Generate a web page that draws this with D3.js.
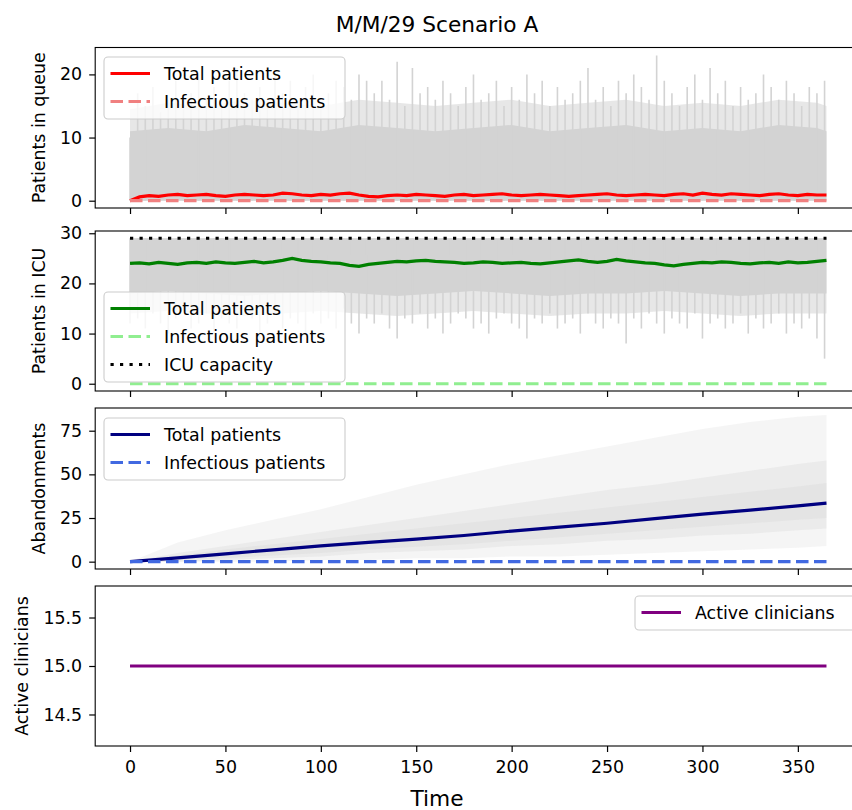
<!DOCTYPE html>
<html><head><meta charset="utf-8">
<script src="https://cdn.jsdelivr.net/npm/d3@7"></script>
<style>
body{margin:0;background:#fff}
svg text{font-family:"DejaVu Sans",sans-serif;fill:#000}
</style>
</head><body><svg id="c" width="852" height="810"></svg>
<script>
// ---------------- data ----------------
const xTicks = [0, 50, 100, 150, 200, 250, 300, 350];
const queueTicks = [0, 10, 20];
const icuTicks = [0, 10, 20, 30];
const abandonTicks = [0, 25, 50, 75];
const clinTicks = [14.5, 15.0, 15.5];

// mean series, sampled every 5 days (t = 0..365)
const meanStep = 5;
const queueMean = [0.0,0.6,0.8,0.7,0.9,1.0,0.8,0.9,1.0,0.8,
  0.7,0.9,1.0,0.9,0.8,0.9,1.2,1.1,0.9,0.8,
  1.0,0.9,1.1,1.2,0.9,0.7,0.6,0.8,0.9,0.8,
  1.0,0.9,0.8,0.7,0.9,1.0,0.8,0.9,1.0,1.1,
  0.9,0.8,0.9,1.0,0.9,0.8,0.7,0.8,0.9,1.0,
  1.1,0.9,0.8,0.9,1.0,0.9,0.8,1.0,1.1,0.9,
  1.2,1.0,0.9,1.1,1.0,0.9,0.8,1.0,1.1,0.9,
  0.8,1.0,0.9,0.9];
const icuMean = [24.0,24.1,23.9,24.2,24.0,23.8,24.1,24.2,24.0,24.3,
  24.1,24.0,24.2,24.4,24.1,24.3,24.6,25.0,24.6,24.4,
  24.3,24.1,24.0,23.6,23.4,23.8,24.0,24.2,24.4,24.3,
  24.5,24.6,24.4,24.3,24.2,24.0,24.1,24.3,24.2,24.0,
  24.1,24.2,24.0,23.9,24.1,24.3,24.5,24.7,24.4,24.2,
  24.4,24.8,24.5,24.3,24.1,24.0,23.7,23.5,23.8,24.0,
  24.2,24.1,24.3,24.2,24.0,23.9,24.1,24.2,24.0,24.3,
  24.1,24.2,24.4,24.6];

// individual-run extremes, sampled every 4 days (t = 0..364)
const runStep = 4;
const queuePeak = [10,17,15,18,14,16,19,15,17,20,
  16,18,15,19,21,17,16,18,15,20,
  17,19,16,18,20,15,17,19,18,16,
  20,19,17,19,16,22,15,21,17,18,
  16,19,17,15,18,20,16,17,19,15,
  18,16,20,17,19,15,18,16,17,19,
  21,16,18,15,19,17,20,18,16,23,
  19,17,15,18,20,16,21,17,19,15,
  18,16,17,20,18,16,19,17,15,18,
  17,19];
const icuLow = [12,13,11,14,12,10,13,15,11,12,
  14,10,13,12,11,14,13,9,12,14,
  11,13,12,10,14,12,13,11,15,12,
  10,13,12,14,11,9,13,12,14,11,
  13,10,12,14,13,11,12,10,13,14,
  12,11,9,13,12,14,11,12,13,10,
  14,12,11,13,12,8,13,11,14,12,
  10,13,12,11,14,9,12,13,11,12,
  14,10,13,11,12,14,10,12,11,13,
  9,5];
const bandTimes = [0,20,40,60,80,100,120,140,160,180,200,220,240,260,280,300,320,340,360,365];
const queueDense = [11,11.5,11,12,11.5,11,12,11.5,11,11.5,12,11,11.5,12,11,11.5,11,12,11.5,11];
const queueMid = [14.5,15.5,15,16,15.5,15,16,15.5,15,15.5,16,15,15.5,16,15,15.5,15,16,15.5,15];
const icuTop = [29,29,29,29,29,29,29,29,29,29,29,29,29,29,29,29,29,29,29,29];
const icuDenseLow = [18,18.5,18,17.5,18,18.5,18,17.5,18,18.5,18,17.5,18,18,18.5,18,17.5,18,18,18];
const icuMidLow = [14,14.5,14,13.5,14,14.5,14,13.5,14,14.5,14,13.5,14,14,14.5,14,13.5,14,14,14];

// abandonments
const abTimes = [0,25,50,75,100,125,150,175,200,225,250,275,300,325,350,365];
const abMean = [0,2.2,4.5,6.8,9.0,11.0,12.9,15.0,17.5,19.8,22.0,24.6,27.2,29.5,32.0,33.5];
const abMax  = [0,11,18,24,30,37,44,50,56,61,66,71,76,80,83,84];
const abP90  = [0,5,9,13,17,21,25,29,33,37,41,44,48,52,56,58];
const abP75  = [0,3.5,7,10,13,16,19,22,25,28,31,34,37,40,43,45];
const abP25  = [0,1,2,3.5,5,7,8.5,10,12,14,16,18,20,22,24,25];
const abP10  = [0,0,1,2,3,5,6,7,9,10,12,13,15,16,18,19];
const abMin  = [0,0,0,0,1,1,2,2,3,3,4,5,6,7,8,9];

const flatTimes = [0, 365];
const infQueue = [0, 0];
const infIcu = [0, 0];
const infAb = [0, 0];
const capacity = [29, 29];
const clinicians = [15, 15];

// ---------------- drawing ----------------
const svg = d3.select("#c");
const FS = 17.4;
const LW = 3.2;
const DASH = "12.5,5.5";
const DOT = "3.2,6.3";
const GREY = "#d3d3d3";

const x = d3.scaleLinear().domain([-18.25, 383.25]).range([95.2, 861.3]);
const L = 95.2, R = 861.3;

const panels = [
  {top: 47.5, bottom: 208, dom: [-1.155, 24.26], ticks: queueTicks, fmt: d3.format("d"), label: "Patients in queue", lx: 45},
  {top: 231, bottom: 391, dom: [-1.45, 30.45], ticks: icuTicks, fmt: d3.format("d"), label: "Patients in ICU", lx: 45},
  {top: 408, bottom: 569, dom: [-4.2, 88], ticks: abandonTicks, fmt: d3.format("d"), label: "Abandonments", lx: 45},
  {top: 586, bottom: 746, dom: [14.175, 15.825], ticks: clinTicks, fmt: d3.format(".1f"), label: "Active clinicians", lx: 28}
];

panels.forEach((p, i) => {
  p.y = d3.scaleLinear().domain(p.dom).range([p.bottom, p.top]);
  const id = "clip" + i;
  svg.append("clipPath").attr("id", id).append("rect")
    .attr("x", L).attr("y", p.top).attr("width", R - L).attr("height", p.bottom - p.top);
  p.g = svg.append("g").attr("clip-path", `url(#${id})`);
});

function line(y, xs, ys) {
  return d3.line().x((d, i) => x(xs[i])).y(d => y(d))(ys);
}
const meanT = queueMean.map((_, i) => i * meanStep);
const runT = queuePeak.map((_, i) => i * runStep);

// Panel 1: queue
{
  const p = panels[0], y = p.y;
  p.g.append("path").attr("fill", GREY).attr("fill-opacity", 0.55)
    .attr("d", d3.area().x((d, i) => x(bandTimes[i])).y0(y(0)).y1(d => y(d))(queueMid));
  p.g.append("path").attr("fill", GREY)
    .attr("d", d3.area().x((d, i) => x(bandTimes[i])).y0(y(0)).y1(d => y(d))(queueDense));
  p.g.selectAll("line.sp").data(queuePeak).enter().append("line")
    .attr("x1", (d, i) => x(runT[i])).attr("x2", (d, i) => x(runT[i]))
    .attr("y1", y(0)).attr("y2", d => y(d))
    .attr("stroke", GREY).attr("stroke-width", 1.6);
  p.g.append("path").attr("fill", "none").attr("stroke", "#ff0000").attr("stroke-width", LW)
    .attr("d", line(y, meanT, queueMean));
  p.g.append("path").attr("fill", "none").attr("stroke", "#f08080").attr("stroke-width", LW)
    .attr("stroke-dasharray", DASH).attr("d", line(y, flatTimes, infQueue));
}
// Panel 2: ICU
{
  const p = panels[1], y = p.y;
  p.g.append("path").attr("fill", GREY).attr("fill-opacity", 0.55)
    .attr("d", d3.area().x((d, i) => x(bandTimes[i])).y0((d, i) => y(icuTop[i])).y1(d => y(d))(icuMidLow));
  p.g.append("path").attr("fill", GREY)
    .attr("d", d3.area().x((d, i) => x(bandTimes[i])).y0((d, i) => y(icuTop[i])).y1(d => y(d))(icuDenseLow));
  p.g.selectAll("line.sp").data(icuLow).enter().append("line")
    .attr("x1", (d, i) => x(runT[i])).attr("x2", (d, i) => x(runT[i]))
    .attr("y1", y(29)).attr("y2", d => y(d))
    .attr("stroke", GREY).attr("stroke-width", 1.6);
  p.g.append("path").attr("fill", "none").attr("stroke", "#008000").attr("stroke-width", LW)
    .attr("d", line(y, meanT, icuMean));
  p.g.append("path").attr("fill", "none").attr("stroke", "#90ee90").attr("stroke-width", LW)
    .attr("stroke-dasharray", DASH).attr("d", line(y, flatTimes, infIcu));
  p.g.append("path").attr("fill", "none").attr("stroke", "#000").attr("stroke-width", LW)
    .attr("stroke-dasharray", DOT).attr("d", line(y, flatTimes, capacity));
}
// Panel 3: abandonments
{
  const p = panels[2], y = p.y;
  const band = (lo, hi) => d3.area().x((d, i) => x(abTimes[i])).y0((d, i) => y(lo[i])).y1(d => y(d))(hi);
  p.g.append("path").attr("fill", GREY).attr("fill-opacity", 0.22).attr("d", band(abMin, abMax));
  p.g.append("path").attr("fill", GREY).attr("fill-opacity", 0.3).attr("d", band(abP10, abP90));
  p.g.append("path").attr("fill", GREY).attr("fill-opacity", 0.3).attr("d", band(abP25, abP75));
  p.g.append("path").attr("fill", "none").attr("stroke", "#000080").attr("stroke-width", LW)
    .attr("d", line(y, abTimes, abMean));
  p.g.append("path").attr("fill", "none").attr("stroke", "#4169e1").attr("stroke-width", LW)
    .attr("stroke-dasharray", DASH).attr("d", line(y, flatTimes, infAb));
}
// Panel 4: clinicians
{
  const p = panels[3], y = p.y;
  p.g.append("path").attr("fill", "none").attr("stroke", "#800080").attr("stroke-width", LW)
    .attr("d", line(y, flatTimes, clinicians));
}

// axes and frames
panels.forEach((p, i) => {
  const ya = svg.append("g").attr("transform", `translate(${L},0)`)
    .call(d3.axisLeft(p.y).tickValues(p.ticks).tickFormat(p.fmt).tickSize(6).tickPadding(7));
  ya.select(".domain").remove();
  ya.selectAll("line").attr("stroke", "#000").attr("stroke-width", 1.2);
  ya.selectAll("text").style("font-size", FS + "px").attr("fill", "#000");

  const xa = svg.append("g").attr("transform", `translate(0,${p.bottom})`)
    .call(d3.axisBottom(x).tickValues(xTicks).tickSize(6).tickPadding(9)
      .tickFormat(i === 3 ? d3.format("d") : () => ""));
  xa.select(".domain").remove();
  xa.selectAll("line").attr("stroke", "#000").attr("stroke-width", 1.2);
  xa.selectAll("text").style("font-size", FS + "px").attr("fill", "#000");

  svg.append("rect").attr("x", L).attr("y", p.top).attr("width", R - L).attr("height", p.bottom - p.top)
    .attr("fill", "none").attr("stroke", "#000").attr("stroke-width", 1.1);

  const cy = (p.top + p.bottom) / 2;
  svg.append("text").attr("transform", `translate(${p.lx},${cy}) rotate(-90)`)
    .attr("text-anchor", "middle").style("font-size", FS + "px").text(p.label);
});

// legends
function legend(bx, by, bw, items) {
  const h = 28 * items.length + 6;
  svg.append("rect").attr("x", bx).attr("y", by).attr("width", bw).attr("height", h)
    .attr("rx", 4).attr("fill", "#fff").attr("fill-opacity", 0.8)
    .attr("stroke", "#cccccc").attr("stroke-width", 1.1);
  items.forEach((it, i) => {
    const cy = by + 16.5 + 28 * i;
    svg.append("line").attr("x1", bx + 6.5).attr("x2", bx + 46).attr("y1", cy).attr("y2", cy)
      .attr("stroke", it.c).attr("stroke-width", LW).attr("stroke-dasharray", it.d || null);
    svg.append("text").attr("x", bx + 60).attr("y", cy + 6.2).style("font-size", FS + "px").text(it.t);
  });
}
legend(104, 57, 241, [
  {t: "Total patients", c: "#ff0000"},
  {t: "Infectious patients", c: "#f08080", d: DASH}
]);
legend(104, 292, 241, [
  {t: "Total patients", c: "#008000"},
  {t: "Infectious patients", c: "#90ee90", d: DASH},
  {t: "ICU capacity", c: "#000", d: DOT}
]);
legend(104, 418, 241, [
  {t: "Total patients", c: "#000080"},
  {t: "Infectious patients", c: "#4169e1", d: DASH}
]);
legend(635, 596, 230, [
  {t: "Active clinicians", c: "#800080"}
]);

// titles
svg.append("text").attr("x", 437).attr("y", 32).attr("text-anchor", "middle")
  .style("font-size", "21.7px").text("M/M/29 Scenario A");
svg.append("text").attr("x", 437).attr("y", 806).attr("text-anchor", "middle")
  .style("font-size", "21.7px").text("Time");
</script>
</body></html>
